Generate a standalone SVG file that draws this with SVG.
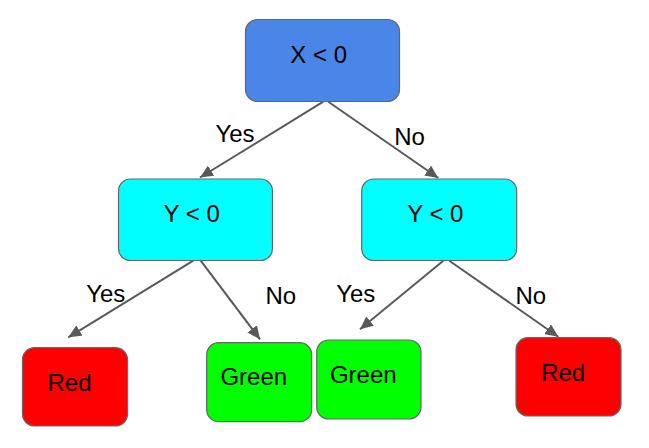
<svg xmlns="http://www.w3.org/2000/svg" width="649" height="448" viewBox="0 0 649 448">
<defs>
<style>
.node rect{stroke:#666666;stroke-width:1.2}
.node text,.lbl{font-family:"Liberation Sans",Arial,sans-serif;font-size:24px;fill:#000;text-anchor:middle}
.conn line{stroke:#595959;stroke-width:2;fill:none;marker-end:url(#arr)}
</style>
<marker id="arr" markerUnits="userSpaceOnUse" markerWidth="14" markerHeight="12" refX="13" refY="6" orient="auto">
<path d="M0,0 L13,6 L0,12 Z" fill="#595959"/>
</marker>
</defs>
<rect width="649" height="448" fill="#ffffff"/>
<g id="connectors" class="conn">
<line x1="323.3" y1="101.7" x2="200" y2="177.5"/>
<line x1="328.3" y1="101.7" x2="438.3" y2="178"/>
<line x1="193.3" y1="260.7" x2="68.3" y2="337.3"/>
<line x1="200.7" y1="260.7" x2="260" y2="339.3"/>
<line x1="443.3" y1="260.7" x2="360" y2="329.3"/>
<line x1="449.3" y1="260.7" x2="558.3" y2="336.7"/>
</g>
<g id="labels">
<text class="lbl" x="235" y="141.7">Yes</text>
<text class="lbl" x="409.5" y="145">No</text>
<text class="lbl" x="105.8" y="301.7">Yes</text>
<text class="lbl" x="280.8" y="304">No</text>
<text class="lbl" x="355.8" y="301.7">Yes</text>
<text class="lbl" x="530.8" y="304">No</text>
</g>
<g id="root" class="node">
<rect x="245.5" y="19.5" width="154" height="82" rx="12" fill="#4a86e8"/>
<text x="318.7" y="63">X &lt; 0</text>
</g>
<g id="y-left" class="node">
<rect x="118.5" y="179" width="154" height="81.5" rx="12" fill="#00ffff"/>
<text x="191.7" y="222.3">Y &lt; 0</text>
</g>
<g id="y-right" class="node">
<rect x="361.7" y="179" width="155" height="81.5" rx="12" fill="#00ffff"/>
<text x="435.3" y="222.3">Y &lt; 0</text>
</g>
<g id="red-left" class="node">
<rect x="22.5" y="347.7" width="105" height="78.3" rx="12" fill="#ff0000"/>
<text x="69.5" y="390.7">Red</text>
</g>
<g id="green-left" class="node">
<rect x="206.7" y="342.7" width="105" height="79" rx="12" fill="#00ff00"/>
<text x="253.8" y="385">Green</text>
</g>
<g id="green-right" class="node">
<rect x="316.7" y="340" width="104.3" height="79" rx="12" fill="#00ff00"/>
<text x="363.3" y="383.3">Green</text>
</g>
<g id="red-right" class="node">
<rect x="516" y="337.7" width="105" height="78.3" rx="12" fill="#ff0000"/>
<text x="563.2" y="380.7">Red</text>
</g>
</svg>
